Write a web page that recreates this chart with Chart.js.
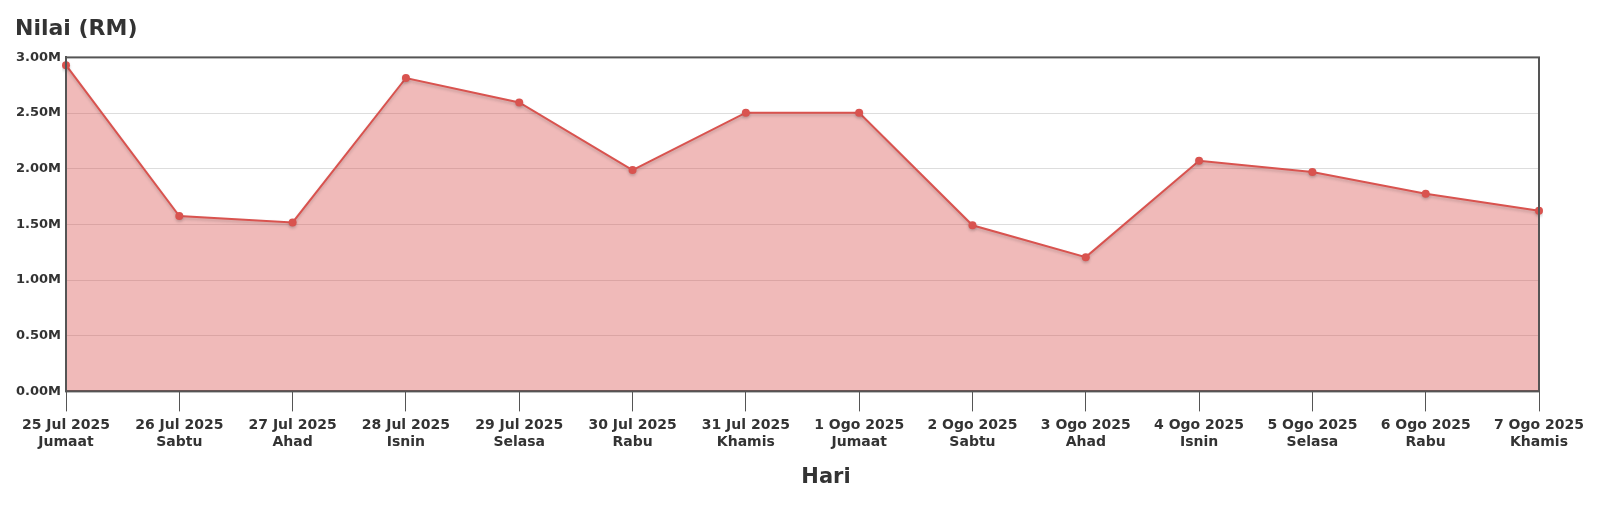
<!DOCTYPE html>
<html>
<head>
<meta charset="utf-8">
<script src="https://cdn.jsdelivr.net/npm/chart.js@4/dist/chart.umd.min.js"></script>
<style>
  html, body { margin: 0; padding: 0; background: #fff; }
  #wrap { width: 1600px; height: 523px; }
</style>
</head>
<body>
<div id="wrap"><canvas id="salesChart" width="1600" height="523"></canvas></div>
<script>
// data
const tarikh = ["25 Jul 2025", "26 Jul 2025", "27 Jul 2025", "28 Jul 2025", "29 Jul 2025",
  "30 Jul 2025", "31 Jul 2025", "1 Ogo 2025", "2 Ogo 2025", "3 Ogo 2025",
  "4 Ogo 2025", "5 Ogo 2025", "6 Ogo 2025", "7 Ogo 2025"];
const hari = ["Jumaat", "Sabtu", "Ahad", "Isnin", "Selasa", "Rabu", "Khamis",
  "Jumaat", "Sabtu", "Ahad", "Isnin", "Selasa", "Rabu", "Khamis"];
const nilai = [2930000, 1575000, 1518000, 2815000, 2595000, 1988000, 2503000,
  2503000, 1492000, 1206000, 2071000, 1970000, 1776000, 1622000];
const yTicks = [0, 500000, 1000000, 1500000, 2000000, 2500000, 3000000];

const labels = tarikh.map((t, i) => [t, hari[i]]);
const FONT = "'DejaVu Sans', sans-serif";
const TEXT = "#333";

// frame round the plot area, plus the x axis title ("Hari" sits right of centre in the original)
const framePlugin = {
  id: "frame",
  afterDraw(chart) {
    const { ctx, chartArea: a } = chart;
    ctx.save();
    ctx.strokeStyle = "#555";
    ctx.lineWidth = 2;
    ctx.strokeRect(a.left, a.top, a.right - a.left, a.bottom - a.top);
    ctx.fillStyle = TEXT;
    ctx.font = "bold 21px " + FONT;
    ctx.textAlign = "center";
    ctx.textBaseline = "alphabetic";
    ctx.fillText("Hari", 826, 483);
    ctx.restore();
  }
};
// soft shadow under the line
const shadowPlugin = {
  id: "lineShadow",
  beforeDatasetDraw(chart) {
    const ctx = chart.ctx;
    ctx.save();
    ctx.shadowColor = "rgba(0,0,0,0.18)";
    ctx.shadowBlur = 3;
    ctx.shadowOffsetY = 2;
  },
  afterDatasetDraw(chart) {
    chart.ctx.restore();
  }
};

new Chart(document.getElementById("salesChart"), {
  type: "line",
  data: {
    labels: labels,
    datasets: [{
      label: "Nilai",
      data: nilai,
      borderColor: "#d9534f",
      backgroundColor: "rgba(217,83,79,0.4)",
      borderWidth: 2,
      fill: "origin",
      tension: 0,
      pointRadius: 4,
      pointBackgroundColor: "#d9534f",
      pointBorderColor: "#d9534f",
      pointBorderWidth: 0
    }]
  },
  options: {
    responsive: false,
    animation: false,
    layout: { padding: { left: 15, right: 61, top: 0, bottom: 66 } },
    plugins: {
      legend: { display: false },
      tooltip: { enabled: false },
      title: {
        display: true,
        text: "Nilai (RM)",
        align: "start",
        color: TEXT,
        font: { family: FONT, size: 22, weight: "bold" },
        padding: { top: 16, bottom: 15 }
      }
    },
    scales: {
      x: {
        offset: false,
        grid: {
          drawOnChartArea: false,
          drawTicks: true,
          tickLength: 20,
          tickColor: "#555",
          lineWidth: 1
        },
        border: { color: "#555", width: 2 },
        ticks: {
          color: TEXT,
          font: { family: FONT, size: 14, weight: "bold" },
          padding: 6,
          maxRotation: 0,
          autoSkip: false
        }
      },
      y: {
        min: 0,
        max: 3000000,
        afterFit(scale) { scale.width = 51; },
        afterBuildTicks(scale) { scale.ticks = yTicks.map(v => ({ value: v })); },
        grid: { color: "#dddddd", drawTicks: false, lineWidth: 1 },
        border: { color: "#555", width: 2 },
        ticks: {
          color: TEXT,
          font: { family: FONT, size: 13, weight: "bold" },
          padding: 5,
          callback: v => (v / 1000000).toFixed(2) + "M"
        }
      }
    }
  },
  plugins: [shadowPlugin, framePlugin]
});
</script>
</body>
</html>
